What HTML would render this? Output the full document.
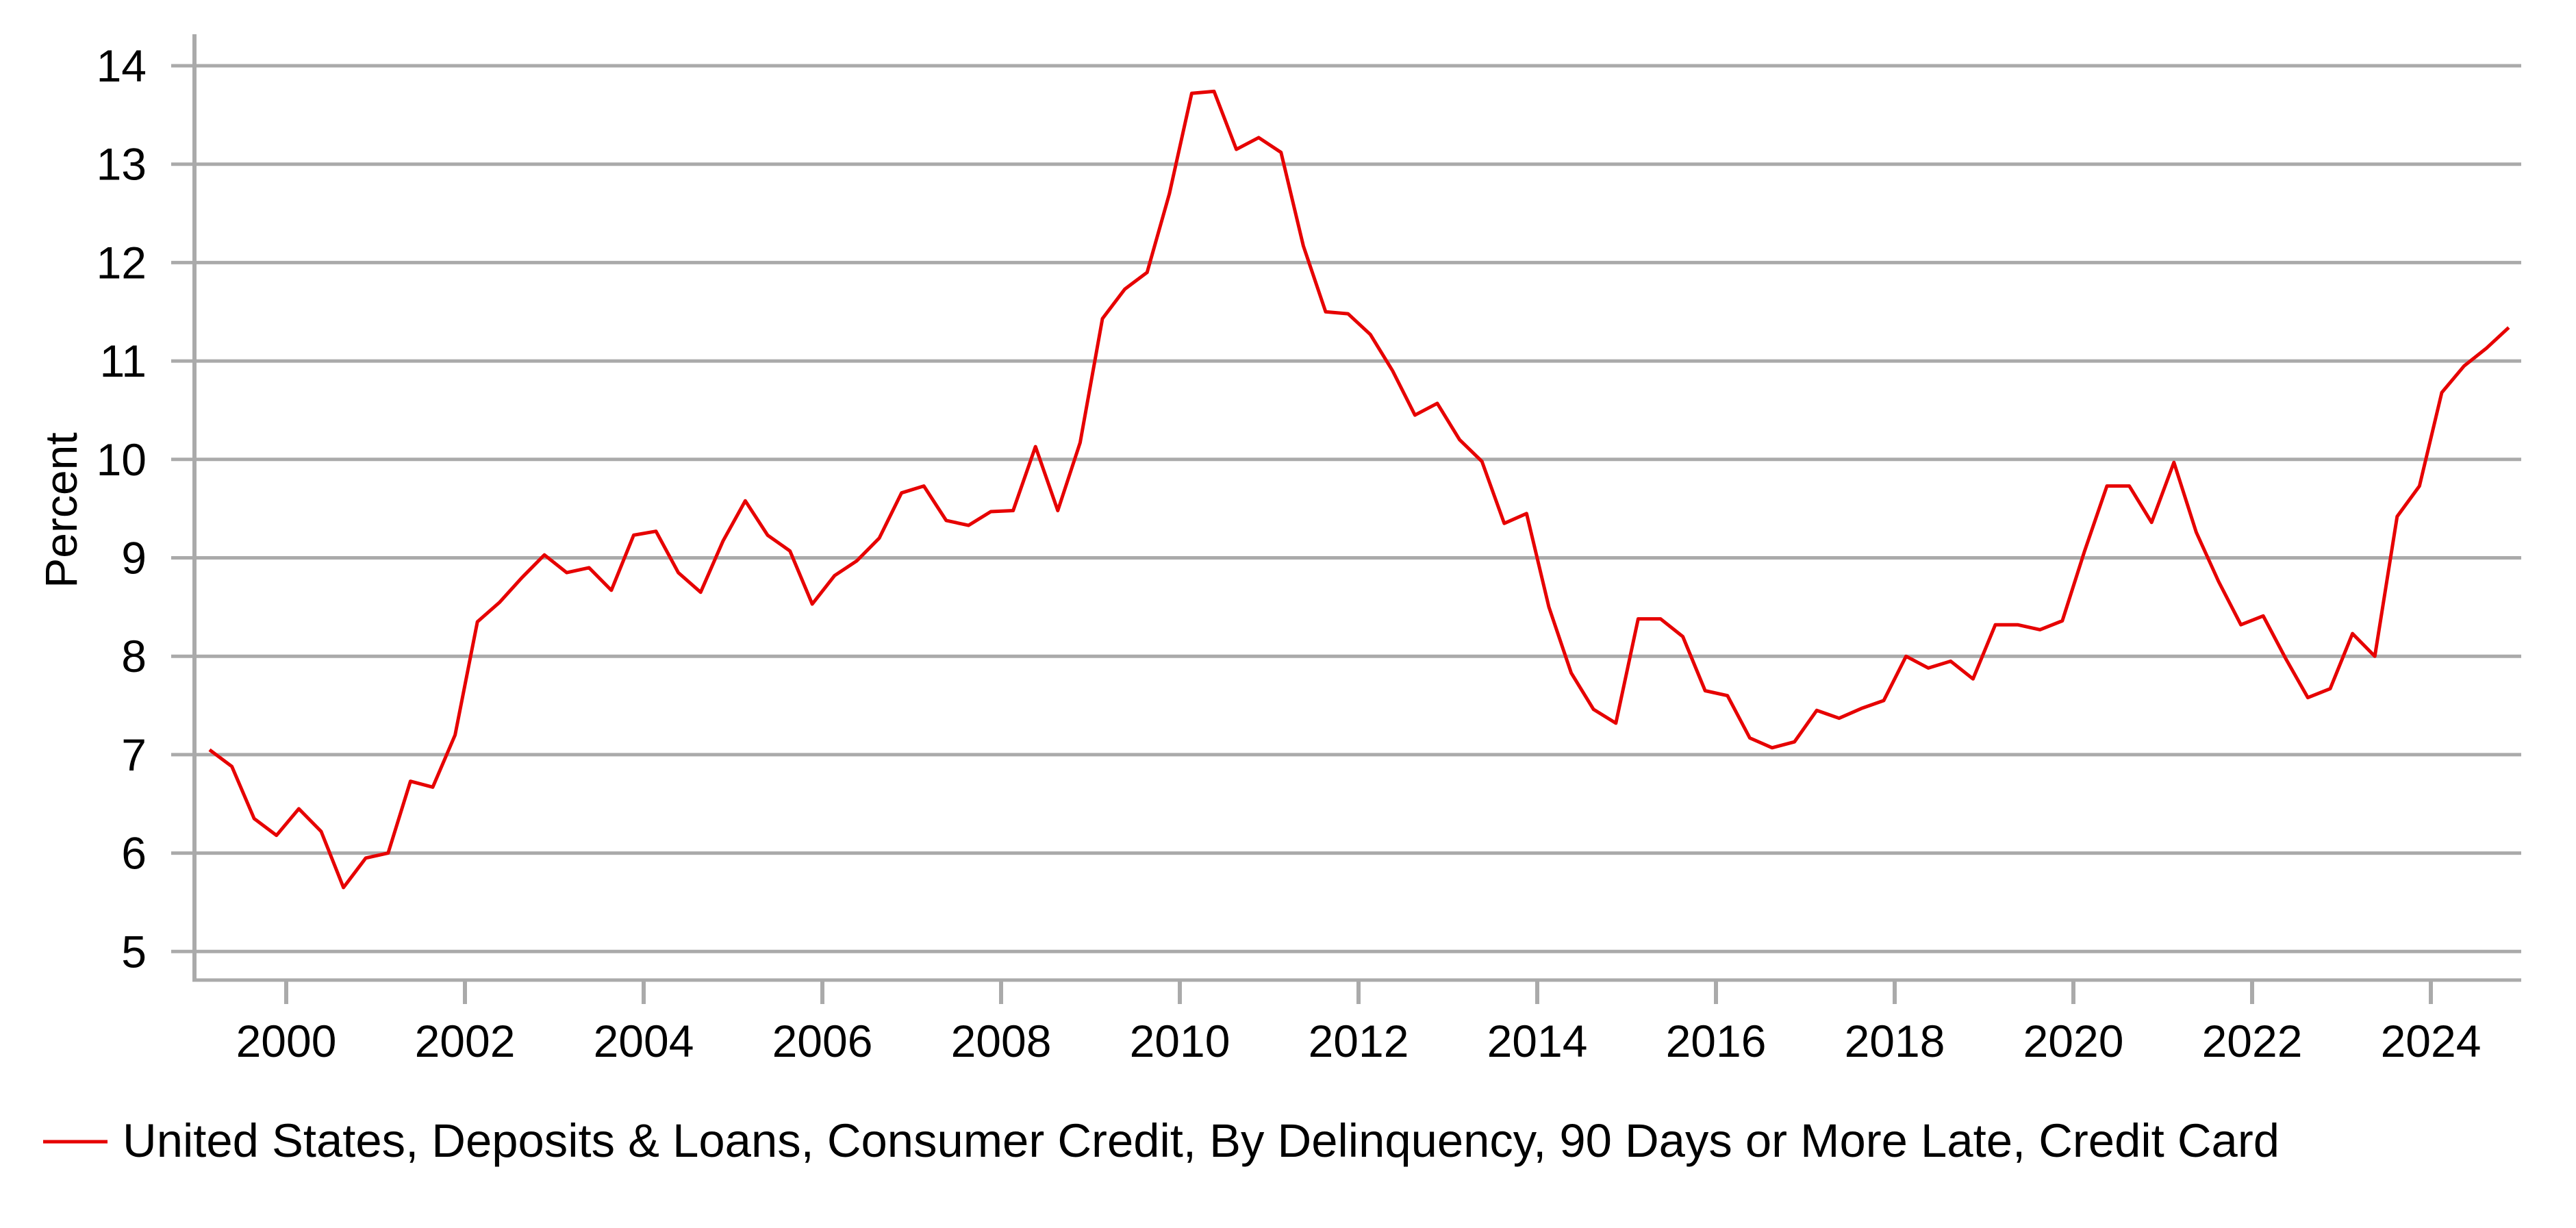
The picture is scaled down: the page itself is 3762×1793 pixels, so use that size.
<!DOCTYPE html>
<html><head><meta charset="utf-8"><style>
html,body{margin:0;padding:0;background:#fff;}
svg{display:block;}
text{font-family:"Liberation Sans",Arial,sans-serif;fill:#000;}
</style></head><body>
<svg id="c" width="3762" height="1793" xmlns="http://www.w3.org/2000/svg">
<g id="grid" stroke="#aaaaaa" stroke-width="5"></g>
<line x1="284" y1="50" x2="284" y2="1433" stroke="#aaaaaa" stroke-width="6"/>
<line x1="281" y1="1431" x2="3682" y2="1431" stroke="#aaaaaa" stroke-width="5"/>
<g id="xt"></g>
<g id="yl" font-size="66" text-anchor="end"></g>
<text transform="translate(112,745) rotate(-90)" font-size="66" text-anchor="middle">Percent</text>
<path id="ln" fill="none" stroke="#e60000" stroke-width="5" stroke-linejoin="round"/>
<line x1="63" y1="1667" x2="157" y2="1667" stroke="#e60000" stroke-width="5"/>
<text x="179" y="1689" font-size="69" textLength="3150" lengthAdjust="spacingAndGlyphs">United States, Deposits &amp; Loans, Consumer Credit, By Delinquency, 90 Days or More Late, Credit Card</text>
</svg>
<script>
var NS="http://www.w3.org/2000/svg";
function Y(v){return 96+(14-v)*143.7;}
function X(yr){return 418+(yr-2000)*130.5;}
var g=document.getElementById('grid'),yl=document.getElementById('yl'),xt=document.getElementById('xt');
for(var v=5;v<=14;v++){var l=document.createElementNS(NS,'line');l.setAttribute('x1',250);l.setAttribute('x2',3682);l.setAttribute('y1',Y(v));l.setAttribute('y2',Y(v));g.appendChild(l);
var t=document.createElementNS(NS,'text');t.setAttribute('x',214);t.setAttribute('y',Y(v)+23);t.textContent=v;yl.appendChild(t);}
for(var y=2000;y<=2024;y+=2){var l=document.createElementNS(NS,'line');l.setAttribute('x1',X(y));l.setAttribute('x2',X(y));l.setAttribute('y1',1431);l.setAttribute('y2',1466);l.setAttribute('stroke','#aaaaaa');l.setAttribute('stroke-width',6);xt.appendChild(l);
var t=document.createElementNS(NS,'text');t.setAttribute('x',X(y));t.setAttribute('y',1543);t.setAttribute('font-size',66);t.setAttribute('text-anchor','middle');t.textContent=y;xt.appendChild(t);}
var d=[7.05,6.88,6.35,6.18,6.45,6.22,5.65,5.95,6.0,6.73,6.67,7.2,8.35,8.55,8.8,9.03,8.85,8.9,8.67,9.23,9.27,8.85,8.65,9.17,9.58,9.23,9.07,8.53,8.82,8.97,9.2,9.66,9.73,9.38,9.33,9.47,9.48,10.13,9.48,10.17,11.43,11.73,11.9,12.7,13.72,13.74,13.15,13.27,13.12,12.17,11.5,11.48,11.27,10.9,10.45,10.57,10.2,9.98,9.35,9.45,8.5,7.83,7.46,7.32,8.38,8.38,8.2,7.65,7.6,7.17,7.07,7.13,7.45,7.37,7.47,7.55,8.0,7.88,7.95,7.77,8.32,8.32,8.27,8.36,9.07,9.73,9.73,9.36,9.97,9.26,8.76,8.32,8.41,7.98,7.58,7.67,8.23,8.0,9.42,9.73,10.68,10.95,11.13,11.34];
var p='';for(var i=0;i<d.length;i++){p+=(i?'L':'M')+(306+i*32.6).toFixed(1)+','+Y(d[i]).toFixed(1);}
document.getElementById('ln').setAttribute('d',p);
</script>
</body></html>
